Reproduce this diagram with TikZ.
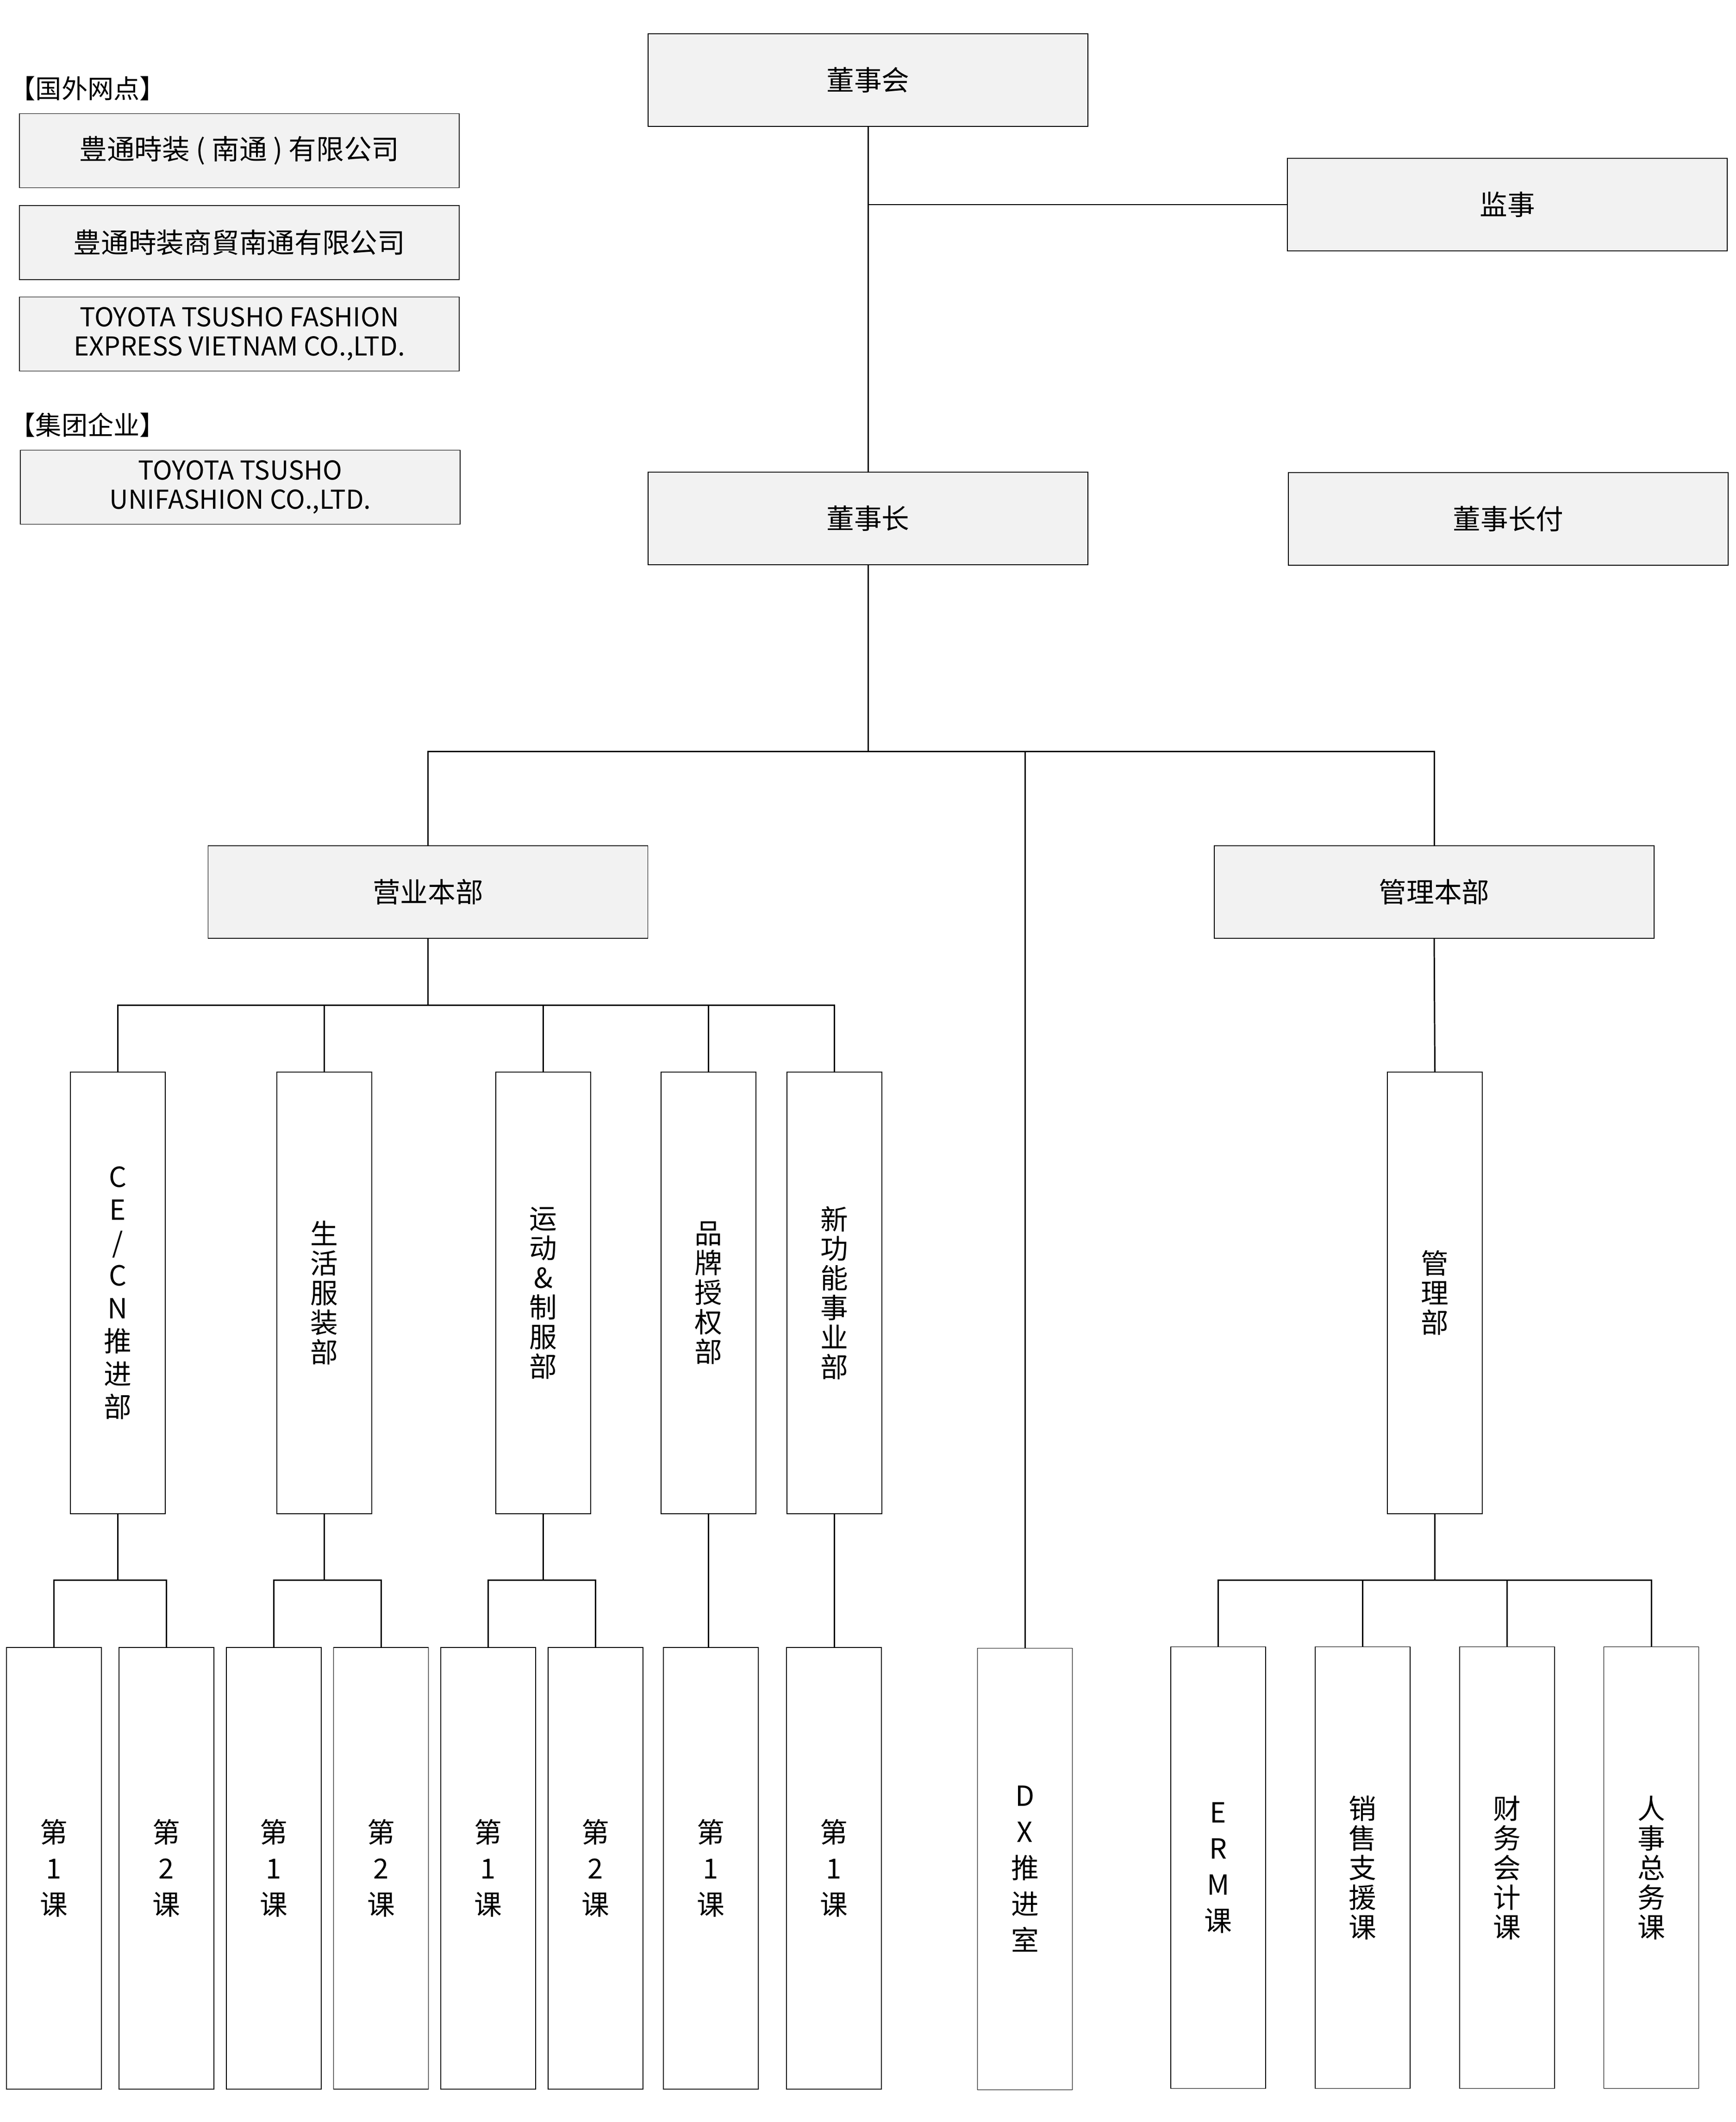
\documentclass[tikz,border=0pt]{standalone}
\usepackage{fontspec}
\setmainfont{Noto Sans CJK SC}
\usepackage{tikz}
\usetikzlibrary{positioning}

\definecolor{boxgray}{HTML}{F2F2F2}

\tikzset{
  hbox/.style={draw=black, line width=0.4pt, fill=boxgray, minimum width=9.5cm,
    minimum height=2cm, inner sep=0pt, align=center, font=\fontsize{17pt}{20pt}\selectfont},
  legbox/.style={hbox, minimum height=1.6cm, font=\fontsize{17pt}{17.9pt}\selectfont},
  legtext/.style={legbox, font=\fontsize{16pt}{17.9pt}\selectfont},
  legtitle/.style={anchor=west, inner sep=0pt, font=\fontsize{16pt}{17pt}\selectfont},
  vbox/.style={draw=black, line width=0.4pt, fill=white, minimum width=2.05cm,
    minimum height=9.54cm, inner sep=0pt, align=center, font=\fontsize{17pt}{18.2pt}\selectfont},
  vmid/.style={vbox, font=\fontsize{17pt}{20.2pt}\selectfont},
  vwide/.style={vbox, font=\fontsize{17pt}{22.2pt}\selectfont},
  link/.style={line width=0.85pt},
}

\begin{document}
\begin{tikzpicture}
  \useasboundingbox (0,0) rectangle (37.5,-45.84);

  % Legend
  \node[legtitle] (ovtitle) at (0.20,-1.91) {【国外网点】};
  \node[legbox] (ov1) at (5.17,-3.255) {豊通時装 ( 南通 ) 有限公司};
  \node[legbox, below=0.37cm of ov1] (ov2) {豊通時装商貿南通有限公司};
  \node[legtext, below=0.36cm of ov2] (ov3) {TOYOTA TSUSHO FASHION\\EXPRESS VIETNAM CO.,LTD.};
  \node[legtitle] (grptitle) at (0.20,-9.18) {【集团企业】};
  \node[legtext] (grp) at (5.19,-10.525) {TOYOTA TSUSHO\\UNIFASHION CO.,LTD.};

  % Top
  \node[hbox] (board) at (18.75,-1.73) {董事会};
  \node[hbox] (auditor) at (32.56,-4.42) {监事};
  \node[hbox] (chair) at (18.75,-11.20) {董事长};
  \node[hbox] (vice) at (32.58,-11.21) {董事长付};

  \draw[link] (board.south) -- (chair.north);
  \draw[link] (board.south |- auditor.west) -- (auditor.west);

  % Headquarters
  \node[hbox] (sales) at (9.245,-19.27) {营业本部};
  \node[hbox] (admin) at (30.98,-19.27) {管理本部};
  \node[vwide] (dx) at (22.14,-40.375) {D\\X\\推\\进\\室};

  \draw[link] (chair.south) -- ++(0,-4.03) coordinate (bustop);
  \draw[link] (sales.north) |- (bustop) -| (admin.north);
  \draw[link] (dx.north) -- (dx.north |- bustop);

  % Sales departments
  \node[vmid] (cecn) at (2.545,-27.93) {C\\E\\/\\C\\N\\推\\进\\部};
  \node[vbox] (life) at (7.005,-27.93) {生\\活\\服\\装\\部};
  \node[vbox] (sport) at (11.735,-27.93) {运\\动\\\&\\制\\服\\部};
  \node[vbox] (brand) at (15.305,-27.93) {品\\牌\\授\\权\\部};
  \node[vbox] (newfn) at (18.025,-27.93) {新\\功\\能\\事\\业\\部};

  \draw[link] (sales.south) -- ++(0,-1.44) coordinate (bussales);
  \draw[link] (cecn.north) |- (bussales) -| (newfn.north);
  \foreach \d in {life,sport,brand}
    \draw[link] (\d.north) -- (\d.north |- bussales);

  % Sections under sales
  \node[vwide] (cecnA) at (1.165,-40.36) {第\\1\\课};
  \node[vwide] (cecnB) at (3.595,-40.36) {第\\2\\课};
  \node[vwide] (lifeA) at (5.915,-40.36) {第\\1\\课};
  \node[vwide] (lifeB) at (8.23,-40.36) {第\\2\\课};
  \node[vwide] (sportA) at (10.545,-40.36) {第\\1\\课};
  \node[vwide] (sportB) at (12.865,-40.36) {第\\2\\课};
  \node[vwide] (brandA) at (15.355,-40.36) {第\\1\\课};
  \node[vwide] (newfnA) at (18.015,-40.36) {第\\1\\课};

  \foreach \d in {cecn,life,sport}{
    \draw[link] (\d.south) -- ++(0,-1.43) coordinate (bus\d);
    \draw[link] (\d A.north) |- (bus\d) -| (\d B.north);
  }
  \draw[link] (brand.south) -- (brand.south |- brandA.north);
  \draw[link] (newfn.south) -- (newfn.south |- newfnA.north);

  % Admin
  \node[vbox] (mgmt) at (30.995,-27.93) {管\\理\\部};
  \node[vwide] (erm) at (26.315,-40.345) {E\\R\\M\\课};
  \node[vbox] (support) at (29.435,-40.345) {销\\售\\支\\援\\课};
  \node[vbox] (finance) at (32.555,-40.345) {财\\务\\会\\计\\课};
  \node[vbox] (hr) at (35.67,-40.345) {人\\事\\总\\务\\课};

  \draw[link] (admin.south) -- (mgmt.north);
  \draw[link] (mgmt.south) -- ++(0,-1.43) coordinate (busmgmt);
  \draw[link] (erm.north) |- (busmgmt) -| (hr.north);
  \foreach \d in {support,finance}
    \draw[link] (\d.north) -- (\d.north |- busmgmt);
\end{tikzpicture}
\end{document}
